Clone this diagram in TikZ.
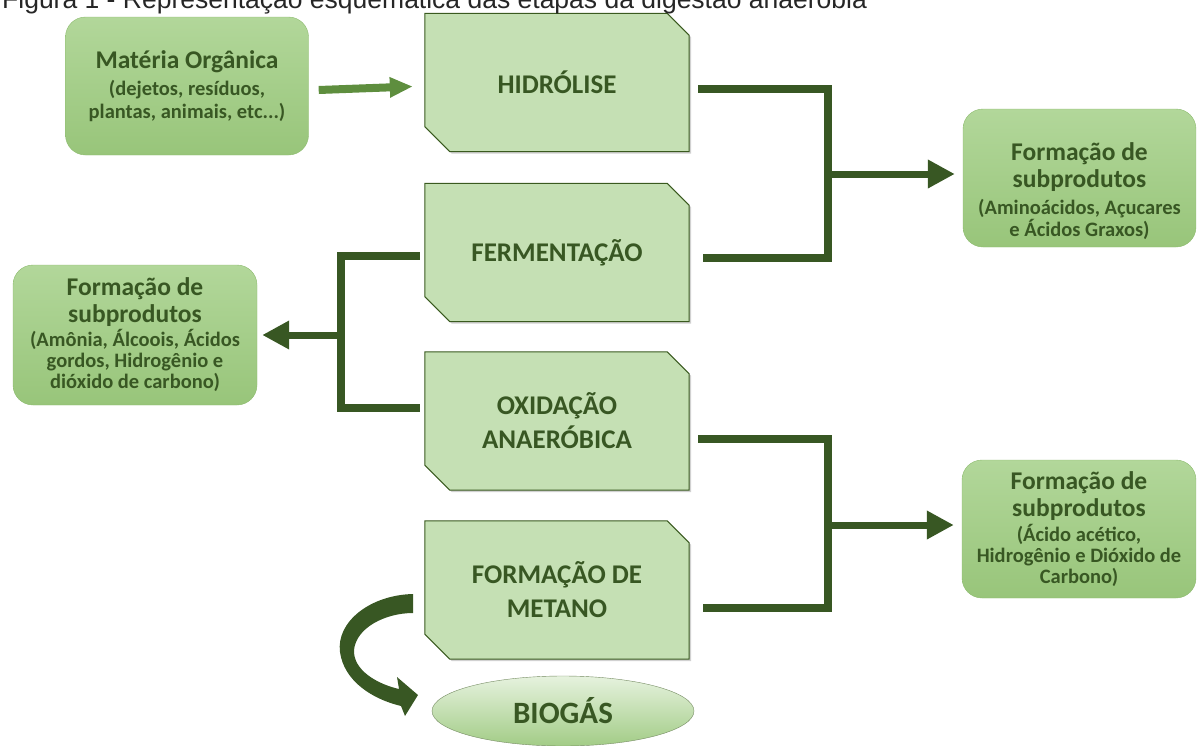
\documentclass[tikz,border=0pt]{standalone}
\usepackage{fontspec}
\setmainfont{Carlito}
\newfontfamily\capfont{Liberation Sans}
\usetikzlibrary{arrows.meta,calc,shapes.geometric,backgrounds,shadows}
\definecolor{stagefill}{HTML}{C5E0B4}
\definecolor{stageline}{HTML}{3A5A1F}
\definecolor{darkgreen}{HTML}{385723}
\definecolor{midgreen}{HTML}{5E8E3E}
\definecolor{boxtop}{HTML}{B2D79A}
\definecolor{boxbot}{HTML}{98C57A}
\definecolor{boxline}{HTML}{8DBB6F}
\definecolor{gastop}{HTML}{E6F2DE}
\definecolor{gasbot}{HTML}{A2CC86}
\newcommand\subt{\fontsize{20.5}{23}\selectfont}
\begin{document}
\begin{tikzpicture}[x=1pt,y=-1pt,
    stage/.style={minimum width=264pt,minimum height=138pt,inner sep=0pt,align=center,
        text=darkgreen,font=\fontsize{27}{34}\selectfont\bfseries},
    stagebox/.style={fill=stagefill,draw=stageline,line width=1pt,
        drop shadow={shadow xshift=2pt,shadow yshift=-2pt,opacity=.3,fill=black!60}},
    result/.style={rounded corners=20pt,draw=boxline,top color=boxtop,bottom color=boxbot,
        minimum height=138pt,inner sep=0pt,align=center,text=darkgreen,
        font=\fontsize{25.5}{27}\selectfont\bfseries},
    gas/.style={ellipse,draw=stageline!70,top color=gastop,bottom color=gasbot,
        minimum width=262pt,minimum height=70pt,inner sep=0pt,text=darkgreen,
        font=\fontsize{31}{36}\selectfont\bfseries},
    link/.style={draw=darkgreen,line width=8pt},
    linkarrow/.style={draw=darkgreen,line width=7pt,-{Triangle[length=27pt,width=27pt]}},
    ]
    \useasboundingbox (0,0) rectangle (1197,745);
    \clip (0,0) rectangle (1197,745);
    \node[anchor=base west,inner sep=0pt,text=black!85,font=\capfont\fontsize{26.5}{30}\selectfont]
        (title) at (2,8) {Figura 1 - Representação esquemática das etapas da digestão anaeróbia};

    \node[result,minimum width=243pt] (materia) at (187,86)
        {Matéria Orgânica\\{\subt (dejetos, resíduos,}\\[-4pt]{\subt plantas, animais, etc...)}};
    \node[stage] (hidro) at (557,82.5) {HIDRÓLISE};
    \node[stage] (ferm) at (557,252.5) {FERMENTAÇÃO};
    \node[stage] (oxid) at (557,421) {OXIDAÇÃO\\ANAERÓBICA};
    \node[stage] (metano) at (557,590) {FORMAÇÃO DE\\METANO};
    \node[gas] (biogas) at (563,711) {BIOGÁS};

    \node[result,minimum width=233pt] (subA) at (1079.5,178)
        {\rule{0pt}{44pt}Formação de\\subprodutos\\{\subt (Aminoácidos, Açucares}\\[-5pt]{\subt e Ácidos Graxos)}};
    \node[result,minimum width=244pt,minimum height=140pt] (subB) at (135,335)
        {Formação de\\subprodutos\\[-3pt]{\subt (Amônia, Álcoois, Ácidos}\\[-6pt]{\subt gordos, Hidrogênio e}\\[-6pt]{\subt dióxido de carbono)}};
    \node[result,minimum width=234pt] (subC) at (1079,529)
        {Formação de\\subprodutos\\[-2pt]{\subt (Ácido acético,}\\[-6pt]{\subt Hidrogênio e Dióxido de}\\[-6pt]{\subt Carbono)}};

    \begin{scope}[on background layer]
    \foreach \s in {hidro,ferm,oxid,metano}
        \filldraw[stagebox] ([xshift=-22pt]\s.north east) -- ([yshift=-22pt]\s.north east)
            -- (\s.south east) -- ([xshift=25pt]\s.south west)
            -- ([yshift=25pt]\s.south west) -- (\s.north west) -- cycle;
    \end{scope}

    \coordinate (jA) at (828,174);
    \coordinate (jB) at (341,335);
    \coordinate (jC) at (828,525);

    \draw[midgreen,line width=8pt,-{Triangle[length=23pt,width=19pt]}]
        ([shift={(10,4)}]materia.east) -- ([shift={(-12,4)}]hidro.west);

    \draw[link] ([shift={(9,6)}]hidro.east) -| (jA) |- ([shift={(14,5)}]ferm.east);
    \draw[linkarrow] (jA) -- ($(jA -| subA.west)+(-8,0)$);

    \draw[link] ([shift={(-5,3)}]ferm.west) -| (jB) |- ([shift={(-5,-13)}]oxid.west);
    \draw[linkarrow] (jB) -- ($(jB -| subB.east)+(5,0)$);

    \draw[link] ([shift={(9,18)}]oxid.east) -| (jC) |- ([shift={(14,18)}]metano.east);
    \draw[linkarrow] (jC) -- ($(jC -| subC.west)+(-8,0)$);

    \fill[darkgreen] (413,594) .. controls (370,595) and (336,622) .. (340,652)
        .. controls (344,681) and (372,699) .. (401,706) -- (405,716) -- (418,695)
        -- (397,677) -- (399,689) .. controls (377,684) and (353,670) .. (354,650)
        .. controls (356,628) and (385,613) .. (413,613) -- cycle;
\end{tikzpicture}
\end{document}
